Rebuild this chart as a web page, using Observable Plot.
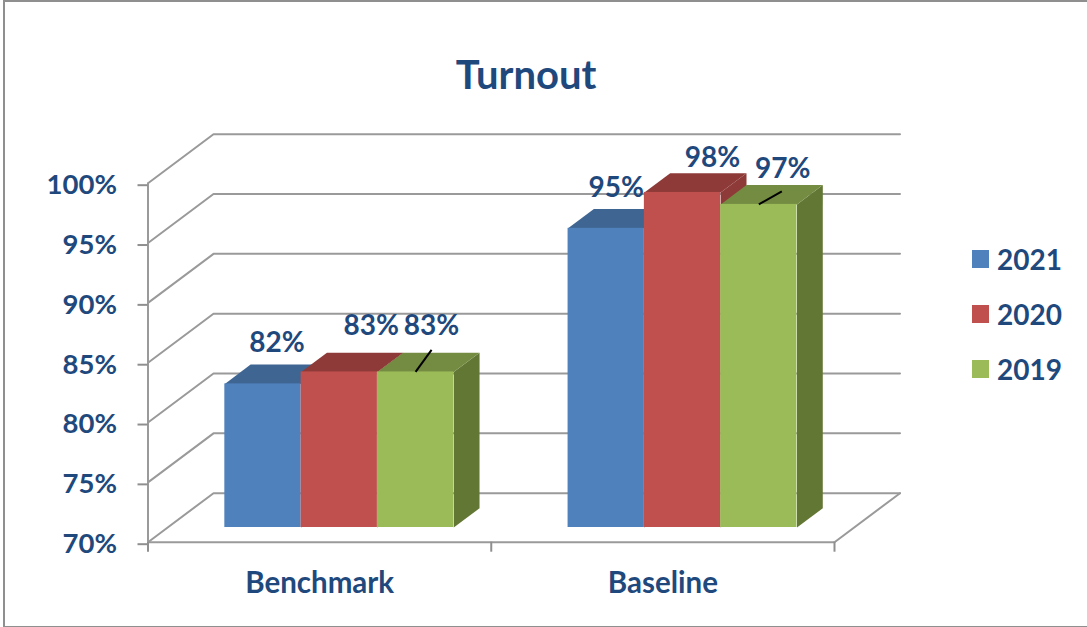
<!DOCTYPE html>
<html>
<head>
<meta charset="utf-8">
<script src="https://cdn.jsdelivr.net/npm/d3@7"></script>
<script src="https://cdn.jsdelivr.net/npm/@observablehq/plot@0.6"></script>
<style>
  html, body { margin: 0; padding: 0; background: #fff; }
  #wrap { position: relative; width: 1087px; height: 627px; overflow: hidden; font-family: Lato, sans-serif; color: #1F497D; }
  #frame { position: absolute; left: 3px; top: -0.5px; width: 1090px; height: 624px; border: 2.5px solid #8f8f8f; box-sizing: content-box; pointer-events: none; }
  #title { position: absolute; left: 0; width: 1052px; top: 51px; text-align: center; font-size: 40px; font-weight: 700; line-height: 46px; }
  .legend { position: absolute; left: 972px; height: 18px; display: flex; align-items: center; font-size: 28px; font-weight: 700; line-height: 18px; }
  .legend i { display: inline-block; width: 17px; height: 18px; margin-right: 8px; }
  svg { display: block; position: absolute; left: 0; top: 0; background: transparent; }
</style>
</head>
<body>
<div id="wrap"></div>
<script>
// Data
const categories = ["Benchmark", "Baseline"];
const years = ["2021", "2020", "2019"];
const values2021 = [82, 95];
const values2020 = [83, 98];
const values2019 = [83, 97];
const yTicks = [70, 75, 80, 85, 90, 95, 100];

// Styles
const fronts = ["#4F81BD", "#C0504D", "#9BBB59"];
const tops   = ["#3F6592", "#8E3A38", "#748C42"];
const sides  = ["#3F6592", "#8E3A38", "#637735"];
const ink = "#1F497D", grid = "#9a9a9a";

// 3D geometry: x in category units, y in percent; depth is 0 (front) to 1 (back wall)
const W = 1087, H = 627, mL = 147.5, mR = 253, mT = 182.7, mB = 85.3;
const pxX = (W - mL - mR) / 2, pxY = (H - mT - mB) / 30;
const depthX = 65.5 / pxX, depthY = 49 / pxY;
const barW = 76.3 / pxX, d0 = 0.3, d1 = 0.694;
const P = (x, v, d) => ({x: x + d * depthX, y: v + d * depthY});

const series = [values2021, values2020, values2019];
const bars = [];
categories.forEach((cat, g) => years.forEach((yr, s) => {
  const x1 = g + 0.5 + (s - 1.5) * barW, x2 = x1 + barW;
  bars.push({cat, yr, s, x1, x2, v: series[s][g]});
}));

// walls: every tick line runs up the side wall then along the back wall
const wallPts = yTicks.flatMap(t => [
  {...P(0, t, 0), t}, {...P(0, t, 1), t}, {...P(2, t, 1), t}
]);
const floorEdge = [P(2, 70, 0), P(2, 70, 1)];

// faces drawn in series order so that later bars cover earlier ones
const barLayers = years.flatMap((yr, s) => {
  const row = bars.filter(b => b.s === s);
  const top = row.flatMap((b, i) => [P(b.x1, b.v, d0), P(b.x1, b.v, d1), P(b.x2, b.v, d1), P(b.x2, b.v, d0)].map(p => ({...p, k: i})));
  const side = row.flatMap((b, i) => [P(b.x2, 70, d0), P(b.x2, 70, d1), P(b.x2, b.v, d1), P(b.x2, b.v, d0)].map(p => ({...p, k: i})));
  const front = row.map(b => ({...b, a: P(b.x1, 70, d0), c: P(b.x2, b.v, d0)}));
  return [
    Plot.line(side, {x: "x", y: "y", z: "k", fill: sides[s], stroke: "none"}),
    Plot.line(top, {x: "x", y: "y", z: "k", fill: tops[s], stroke: "none"}),
    Plot.rect(front, {x1: d => d.a.x, x2: d => d.c.x, y1: d => d.a.y, y2: d => d.c.y, fill: fronts[s], inset: 0})
  ];
});

// manual label placement (px, relative to the middle of the front top edge)
const labelOffset = [[14, -41], [32, -46], [16, -46], [10, -40], [30, -34], [24, -35]];
const leaderOffset = {2: [16, -22], 5: [23, -13]};
const labels = bars.map((b, i) => {
  const a = P((b.x1 + b.x2) / 2, b.v, d0);
  return {text: b.v + "%", ax: a.x, ay: a.y,
          x: a.x + labelOffset[i][0] / pxX, y: a.y - labelOffset[i][1] / pxY, i};
});
const leaders = labels.filter(l => leaderOffset[l.i]).map(l => ({
  x1: l.ax, y1: l.ay,
  x2: l.ax + leaderOffset[l.i][0] / pxX, y2: l.ay - leaderOffset[l.i][1] / pxY
}));

const chart = Plot.plot({
  width: W, height: H,
  marginLeft: mL, marginRight: mR, marginTop: mT, marginBottom: mB,
  style: {background: "transparent", fontFamily: "Lato, sans-serif", overflow: "visible"},
  x: {type: "linear", domain: [0, 2]},
  y: {type: "linear", domain: [70, 100]},
  marks: [
    Plot.line(wallPts, {x: "x", y: "y", z: "t", stroke: grid, strokeWidth: 2}),
    Plot.line(floorEdge, {x: "x", y: "y", stroke: grid, strokeWidth: 2}),
    Plot.ruleX([0], {y1: 70, y2: 100, stroke: grid, strokeWidth: 2}),
    Plot.ruleY([70], {x1: 0, x2: 2, stroke: grid, strokeWidth: 2}),
    Plot.axisY({ticks: yTicks, tickSize: 10, tickPadding: 21, tickFormat: d => d + "%",
      label: null, color: ink, stroke: "#8f8f8f", strokeWidth: 2, fontSize: 27.5, fontWeight: 700, dy: 2}),
    Plot.axisX({ticks: [0, 1, 2], tickSize: 10, tickFormat: () => "", label: null, stroke: "#8f8f8f", strokeWidth: 2}),
    Plot.text(categories, {x: (d, i) => i + 0.5, y: () => 70, dy: 41, text: d => d, fill: ink, fontSize: 29.5, fontWeight: 700}),
    ...barLayers,
    Plot.link(leaders, {x1: "x1", y1: "y1", x2: "x2", y2: "y2", stroke: "#000", strokeWidth: 2}),
    Plot.text(labels, {x: "x", y: "y", text: "text", fill: ink, fontSize: 28, fontWeight: 700})
  ]
});

const wrap = document.getElementById("wrap");
wrap.appendChild(chart);

const frame = document.createElement("div");
frame.id = "frame";
wrap.appendChild(frame);

const title = document.createElement("div");
title.id = "title";
title.textContent = "Turnout";
wrap.appendChild(title);

const legendTops = [249.5, 304.5, 359.5];
years.forEach((yr, s) => {
  const row = document.createElement("div");
  row.className = "legend";
  row.style.top = legendTops[s] + "px";
  const sw = document.createElement("i");
  sw.style.background = fronts[s];
  row.appendChild(sw);
  row.appendChild(document.createTextNode(yr));
  wrap.appendChild(row);
});
</script>
</body>
</html>
